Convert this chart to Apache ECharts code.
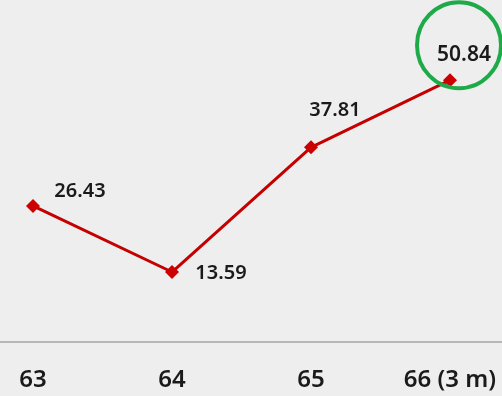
<!DOCTYPE html>
<html>
<head>
<meta charset="utf-8">
<script src="https://cdn.jsdelivr.net/npm/echarts@6/dist/echarts.min.js"></script>
<style>
  html, body { margin: 0; padding: 0; background: #eeeeee; }
  #chart { width: 502px; height: 396px; }
</style>
</head>
<body>
<div id="chart"></div>
<script>
// data
const categories = ["63", "64", "65", "66 (3 m)"];
const values = [26.43, 13.59, 37.81, 50.84];
// where each value label sits relative to its point
const labelOffsets = [[47, -15], [49, 1], [24, -37], [14, -25]];
const labelSizes = [20, 20, 20, 21];

const chart = echarts.init(document.getElementById("chart"));

// x as index so the axis line can run past the first and last point
const idx = categories.map((c, i) => i);
const seriesData = values.map((v, i) => ({
  value: [i, v],
  label: {
    position: "inside",
    offset: labelOffsets[i],
    fontSize: labelSizes[i]
  }
}));

chart.setOption({
  backgroundColor: "#eeeeee",
  animation: false,
  grid: { left: 0, right: 0, top: 33, bottom: 54 },
  xAxis: {
    type: "value",
    min: -33 / 139,
    max: 3 + 52 / 139,
    axisLine: { show: true, onZero: false, lineStyle: { color: "#a4a4a4", width: 1.5 } },
    axisTick: { show: false },
    splitLine: { show: false },
    axisLabel: {
      customValues: idx,
      showMinLabel: true,
      showMaxLabel: true,
      hideOverlap: false,
      color: "#1a1a1a",
      fontSize: 24,
      fontWeight: 600,
      fontFamily: "Noto Sans",
      margin: 26,
      formatter: (v) => categories[Math.round(v)]
    }
  },
  yAxis: {
    type: "value",
    min: 0,
    max: 60,
    show: false,
    splitLine: { show: false }
  },
  series: [{
    type: "line",
    data: seriesData,
    symbol: "diamond",
    symbolSize: 14,
    lineStyle: { color: "#c40000", width: 3 },
    itemStyle: { color: "#cc0000" },
    label: {
      show: true,
      color: "#1a1a1a",
      fontSize: 20,
      fontWeight: 600,
      fontFamily: "Noto Sans",
      formatter: (p) => p.value[1].toFixed(2)
    },
    markPoint: {
      symbol: "circle",
      symbolSize: [84, 86],
      symbolOffset: [9, -35],
      silent: true,
      label: { show: false },
      itemStyle: { color: "rgba(0,0,0,0)", borderColor: "#1faa4a", borderWidth: 4 },
      data: [{ coord: [idx[idx.length - 1], values[values.length - 1]] }]
    }
  }]
});
</script>
</body>
</html>
